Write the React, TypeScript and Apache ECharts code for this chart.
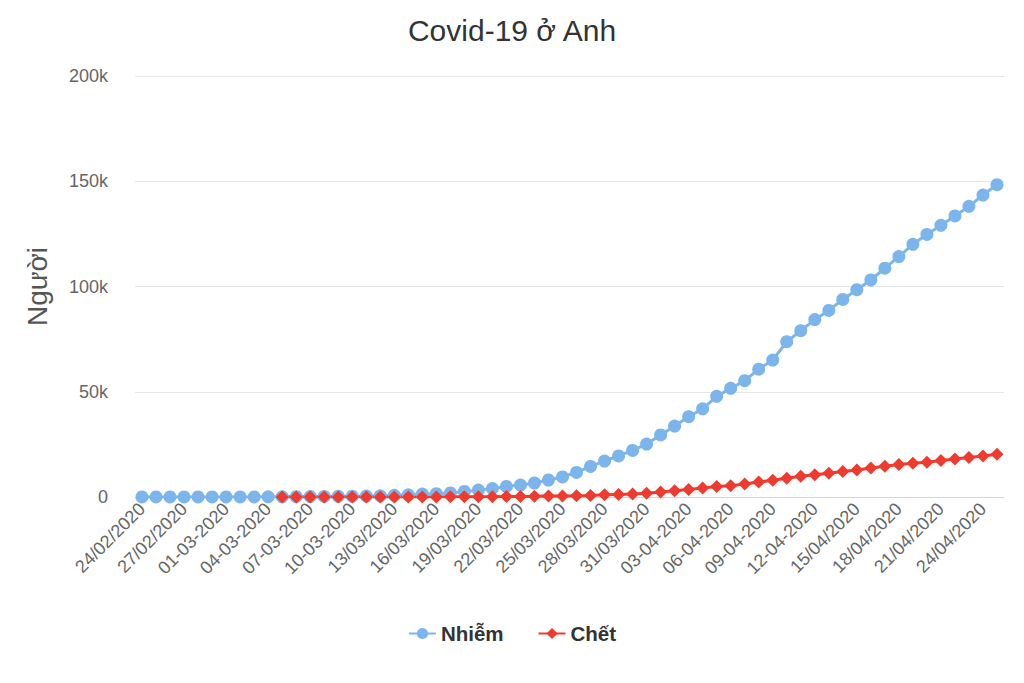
import React, { useEffect, useRef } from "react";
import * as echarts from "echarts";

const categories: string[] = [
  "24/02/2020", "25/02/2020", "26/02/2020", "27/02/2020", "28/02/2020", "29/02/2020",
  "01-03-2020", "02-03-2020", "03-03-2020", "04-03-2020", "05-03-2020", "06-03-2020",
  "07-03-2020", "08-03-2020", "09-03-2020", "10-03-2020", "11-03-2020", "12-03-2020",
  "13/03/2020", "14/03/2020", "15/03/2020", "16/03/2020", "17/03/2020", "18/03/2020",
  "19/03/2020", "20/03/2020", "21/03/2020", "22/03/2020", "23/03/2020", "24/03/2020",
  "25/03/2020", "26/03/2020", "27/03/2020", "28/03/2020", "29/03/2020", "30/03/2020",
  "31/03/2020", "01-04-2020", "02-04-2020", "03-04-2020", "04-04-2020", "05-04-2020",
  "06-04-2020", "07-04-2020", "08-04-2020", "09-04-2020", "10-04-2020", "11-04-2020",
  "12-04-2020", "13/04/2020", "14/04/2020", "15/04/2020", "16/04/2020", "17/04/2020",
  "18/04/2020", "19/04/2020", "20/04/2020", "21/04/2020", "22/04/2020", "23/04/2020",
  "24/04/2020", "25/04/2020",
];

const infected: number[] = [
  13, 13, 13, 15, 20, 23,
  36, 40, 51, 85, 115, 163, 206, 273, 321, 373, 456, 590, 797, 1061, 1391, 1543,
  1950, 2626, 3269, 3983, 5018, 5683, 6650, 8077, 9529, 11658, 14543, 17089, 19522,
  22141, 25150,
  29474, 33718, 38168, 41903, 47806, 51608, 55242, 60733, 65077, 73758, 78991, 84279,
  88621, 93873, 98476, 103093, 108692, 114217, 120067, 124743, 129044, 133495, 138078,
  143464, 148377,
];

const deaths: (number | null)[] = [
  null, null, null, null, null, null,
  null, null, null, null, 1, 2, 2, 3, 4, 6, 8, 8, 10, 21, 35, 55,
  71, 104, 144, 177, 233, 281, 335, 422, 465, 578, 759, 1019, 1228,
  1408, 1789,
  2352, 2921, 3605, 4313, 4934, 5373, 6159, 7097, 7978, 8958, 9875, 10612,
  11329, 12107, 12868, 13729, 14576, 15464, 16060, 16509, 17337, 18100, 18738,
  19506, 20319,
];

const FONT = "'Liberation Sans', Arial, Helvetica, sans-serif";

export default function App() {
  const ref = useRef<HTMLDivElement>(null);
  useEffect(() => {
    if (!ref.current) return;
    const chart = echarts.init(ref.current, undefined, { renderer: "svg" });
    chart.setOption({
      animation: false,
      backgroundColor: "#ffffff",
      textStyle: { fontFamily: FONT },
      title: {
        text: "Covid-19 ở Anh",
        left: "center",
        top: 10,
        textStyle: { fontSize: 30, fontWeight: "normal", color: "#333333", fontFamily: FONT },
      },
      legend: {
        bottom: 34,
        left: "center",
        itemWidth: 27,
        itemHeight: 14,
        itemGap: 34,
        textStyle: { fontSize: 20.5, fontWeight: "bold", color: "#333333", fontFamily: FONT },
        data: ["Nhiễm", "Chết"],
      },
      grid: { left: 135, right: 20, top: 76, bottom: 186 },
      xAxis: {
        type: "category",
        data: categories,
        boundaryGap: true,
        axisLine: { lineStyle: { color: "#ccd6eb", width: 1 } },
        axisTick: { show: false },
        axisLabel: {
          interval: 2,
          rotate: 45,
          color: "#666666",
          fontSize: 18,
          margin: 9,
          fontFamily: FONT,
        },
      },
      yAxis: {
        type: "value",
        min: 0,
        max: 200000,
        interval: 50000,
        name: "Người",
        nameLocation: "middle",
        nameGap: 84,
        nameTextStyle: { fontSize: 28, color: "#555555", fontFamily: FONT },
        axisLine: { show: false },
        axisTick: { show: false },
        splitLine: { lineStyle: { color: "#e6e6e6" } },
        axisLabel: {
          color: "#666666",
          fontSize: 18,
          margin: 27,
          fontFamily: FONT,
          formatter: (v: number) => (v === 0 ? "0" : v / 1000 + "k"),
        },
      },
      series: [
        {
          name: "Nhiễm",
          type: "line",
          data: infected,
          symbol: "circle",
          symbolSize: 13,
          showAllSymbol: true,
          itemStyle: { color: "#7cb5ec" },
          lineStyle: { color: "#7cb5ec", width: 3 },
        },
        {
          name: "Chết",
          type: "line",
          data: deaths,
          symbol: "diamond",
          symbolSize: 13,
          showAllSymbol: true,
          itemStyle: { color: "#ef3b2f" },
          lineStyle: { color: "#ef3b2f", width: 3 },
        },
      ],
    });
    return () => chart.dispose();
  }, []);
  return (
    <div
      ref={ref}
      style={{ position: "fixed", left: 0, top: 0, width: 1024, height: 683 }}
    />
  );
}
